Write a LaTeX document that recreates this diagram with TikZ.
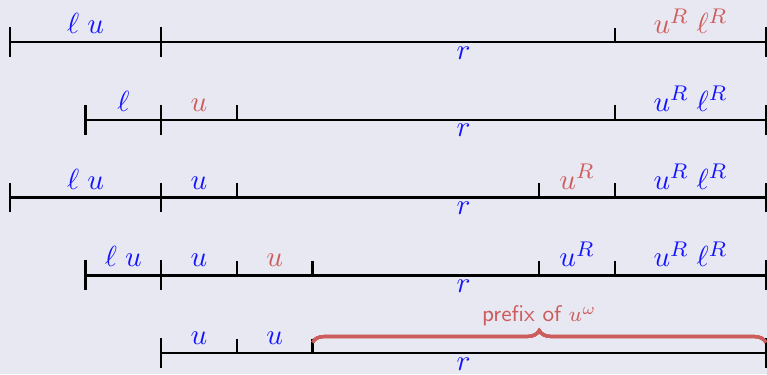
\documentclass[tikz,border=0pt]{standalone}
\usetikzlibrary{decorations.pathreplacing}
\definecolor{slidebg}{RGB}{232,232,242}
\definecolor{alertred}{RGB}{205,92,92}
\definecolor{wordblue}{RGB}{20,20,255}
\tikzset{
    seg line/.style={line width=0.95pt, black},
    seg lbl/.style={above, inner sep=3pt, text=wordblue,
                    font=\fontsize{11}{13}\selectfont},
    seg alert/.style={seg lbl, text=alertred},
    seg rest/.style={below, inner sep=1.5pt, text=wordblue,
                     font=\fontsize{11}{13}\selectfont},
    seg brace/.style={decorate, decoration={brace, amplitude=4.5pt},
                      line width=1.2pt, alertred},
    seg note/.style={above=9pt, inner sep=1pt, text=alertred,
                     font=\fontsize{8.5}{10}\sffamily},
}
\newcommand{\bigtick}[1]{%
    \draw[seg line] ([yshift=-5.6pt]#1) -- ([yshift=5.6pt]#1);}
\newcommand{\smalltick}[1]{%
    \draw[seg line] (#1) -- ([yshift=5.4pt]#1);}
\begin{document}
\begin{tikzpicture}[x=1cm, y=1.0285cm]
    \useasboundingbox[fill=slidebg] (-0.132,0.541) rectangle (10.013,-4.270);
    % marks along each row
    \foreach \row in {0,...,4}
        \foreach \i in {0,...,10}
            \coordinate (m\row-\i) at (\i,-\row);

    % Row labels
    \path (m0-0) -- node[seg lbl] (lu0) {$\ell\;u$} (m0-2);
    \path (m0-8) -- node[seg alert] (ul0) {$u^R\;\ell^R$} (m0-10);
    \path (m0-2) -- node[seg rest] (r0) {$r$} (m0-10);

    \path (m1-1) -- node[seg lbl] (l1) {$\ell$} (m1-2);
    \path (m1-2) -- node[seg alert] (u1) {$u$} (m1-3);
    \path (m1-8) -- node[seg lbl] (ul1) {$u^R\;\ell^R$} (m1-10);
    \path (m1-2) -- node[seg rest] (r1) {$r$} (m1-10);

    \path (m2-0) -- node[seg lbl] (lu2) {$\ell\;u$} (m2-2);
    \path (m2-2) -- node[seg lbl] (u2) {$u$} (m2-3);
    \path (m2-7) -- node[seg alert] (uR2) {$u^R$} (m2-8);
    \path (m2-8) -- node[seg lbl] (ul2) {$u^R\;\ell^R$} (m2-10);
    \path (m2-2) -- node[seg rest] (r2) {$r$} (m2-10);

    \path (m3-1) -- node[seg lbl] (lu3) {$\ell\;u$} (m3-2);
    \path (m3-2) -- node[seg lbl] (u3) {$u$} (m3-3);
    \path (m3-3) -- node[seg alert] (uu3) {$u$} (m3-4);
    \path (m3-7) -- node[seg lbl] (uR3) {$u^R$} (m3-8);
    \path (m3-8) -- node[seg lbl] (ul3) {$u^R\;\ell^R$} (m3-10);
    \path (m3-2) -- node[seg rest] (r3) {$r$} (m3-10);

    \path (m4-2) -- node[seg lbl] (u4) {$u$} (m4-3);
    \path (m4-3) -- node[seg lbl] (uu4) {$u$} (m4-4);
    \path (m4-4) -- node[seg note] (pre) {prefix of $u^\omega$} (m4-10);
    \path (m4-2) -- node[seg rest] (r4) {$r$} (m4-10);

    % Segment lines and ticks
    \draw[seg line] (m0-0) -- (m0-10);
    \foreach \i in {0,2,10} \bigtick{m0-\i}
    \smalltick{m0-8}
    \draw[seg line] (m1-1) -- (m1-10);
    \foreach \i in {1,2,10} \bigtick{m1-\i}
    \foreach \i in {3,8} \smalltick{m1-\i}
    \draw[seg line] (m2-0) -- (m2-10);
    \foreach \i in {0,2,10} \bigtick{m2-\i}
    \foreach \i in {3,7,8} \smalltick{m2-\i}
    \draw[seg line] (m3-1) -- (m3-10);
    \foreach \i in {1,2,10} \bigtick{m3-\i}
    \foreach \i in {3,4,7,8} \smalltick{m3-\i}
    \draw[seg line] (m4-2) -- (m4-10);
    \foreach \i in {2,10} \bigtick{m4-\i}
    \foreach \i in {3,4} \smalltick{m4-\i}
    \draw[seg brace] ([yshift=4pt]m4-4) -- ([yshift=4pt]m4-10);
\end{tikzpicture}
\end{document}
